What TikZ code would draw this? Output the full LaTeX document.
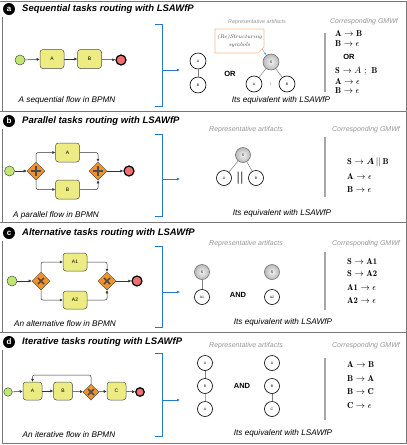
\documentclass[tikz,border=0pt]{standalone}
\usepackage{fontspec}
\usepackage{amsmath}
\usepackage{amssymb}
\usepackage{tikz}
\usetikzlibrary{positioning}
\usetikzlibrary{shapes.geometric}
\usetikzlibrary{arrows.meta}
\newfontfamily\arialfont{Liberation Sans}
\pgfdeclarelayer{nodelayer}
\pgfdeclarelayer{edgelayer}
\pgfsetlayers{nodelayer,edgelayer,main}
\definecolor{framegray}{RGB}{120,120,120}
\definecolor{startgreen}{RGB}{192,232,112}
\definecolor{taskyellow}{RGB}{236,236,130}
\definecolor{gateorange}{RGB}{244,146,42}
\definecolor{endred}{RGB}{240,112,112}
\definecolor{bracketblue}{RGB}{38,120,200}
\definecolor{calloutorange}{RGB}{246,184,136}
\definecolor{hintgray}{RGB}{150,150,150}
\tikzset{
  startev/.style={circle, draw=black!70, fill=startgreen, minimum size=10pt, inner sep=0pt, line width=0.5pt},
  endev/.style={circle, draw=black, fill=endred, minimum size=10pt, inner sep=0pt, line width=1.2pt},
  task/.style={rectangle, rounded corners=3pt, draw=black!70, fill=taskyellow, minimum width=24pt, minimum height=19pt, inner sep=0pt, line width=0.5pt, font=\arialfont\fontsize{5}{6}\selectfont},
  gate/.style={diamond, draw=black!70, fill=gateorange, minimum size=18pt, inner sep=0pt, line width=0.5pt},
  gateplus/.style={gate, path picture={\draw [line width=1.8pt] ([xshift=-5pt]path picture bounding box.center) -- ([xshift=5pt]path picture bounding box.center); \draw [line width=1.8pt] ([yshift=-5pt]path picture bounding box.center) -- ([yshift=5pt]path picture bounding box.center);}},
  gatex/.style={gate, path picture={\draw [line width=1.6pt] ([shift={(-3pt,-3pt)}]path picture bounding box.center) -- ([shift={(3pt,3pt)}]path picture bounding box.center); \draw [line width=1.6pt] ([shift={(-3pt,3pt)}]path picture bounding box.center) -- ([shift={(3pt,-3pt)}]path picture bounding box.center);}},
  flow/.style={-{Latex[length=3pt,width=3pt]}, black!80, line width=0.5pt, rounded corners=2pt},
  tnode/.style={circle, draw=black, fill=white, minimum size=15pt, inner sep=0pt, line width=0.6pt, font=\arialfont\fontsize{3.5}{4}\selectfont},
  snode/.style={tnode, draw=black!55, shading=radial, inner color=gray!10, outer color=gray!55},
  tlink/.style={gray, line width=0.9pt},
  bracket/.style={bracketblue, line width=0.8pt},
  badge/.style={circle, fill=black, text=white, minimum size=12pt, inner sep=0pt, font=\arialfont\bfseries\fontsize{8}{8}\selectfont},
  title/.style={anchor=west, inner sep=0pt, font=\arialfont\bfseries\itshape\fontsize{9.5}{10}\selectfont},
  caption/.style={inner sep=0pt, font=\arialfont\itshape\fontsize{8.2}{9}\selectfont},
  hint/.style={inner sep=0pt, text=hintgray, font=\arialfont\itshape\fontsize{7}{8}\selectfont},
  word/.style={inner sep=0pt, font=\arialfont\bfseries\fontsize{7.5}{8}\selectfont},
  gram/.style={anchor=west, inner sep=0pt, font=\fontsize{8.6}{9}\selectfont},
  gbar/.style={gray!70, line width=2pt},
  frame/.style={framegray, line width=0.7pt}
}
\begin{document}
\begin{tikzpicture}[x=1pt, y=-1pt]
  \useasboundingbox (0, 0) rectangle (407, 445);
  \draw [frame] (0, 1) -- (406, 1) -- (406, 443) -- (2, 443) -- (2, 350);
  \draw [frame] (2, 17) -- (2, 111);
  \draw [frame] (2, 129) -- (2, 222);
  \draw [frame] (2, 241) -- (2, 332);
  \draw [frame] (0, 111) -- (406, 111);
  \draw [frame] (0, 222) -- (406, 222);
  \draw [frame] (0, 332) -- (406, 332);
  \draw [bracket] (155, 24) -- (162, 24) -- (162, 106) -- (155, 106);
  \draw [bracket] (155, 134) -- (162, 134) -- (162, 216) -- (155, 216);
  \draw [bracket] (155, 246) -- (162, 246) -- (162, 327) -- (155, 327);
  \draw [bracket] (155, 353) -- (162, 353) -- (162, 436) -- (155, 436);
  \draw [gbar] (325, 33) -- (325, 92);
  \draw [gbar] (325, 137) -- (325, 197);
  \draw [gbar] (325, 252) -- (325, 310);
  \draw [gbar] (325, 358) -- (325, 420);
  \begin{pgfonlayer}{nodelayer}
    \draw [calloutorange, line width=0.6pt, fill=white] (215, 29) -- (264, 29) -- (264, 47) -- (258, 53) -- (215, 53) -- cycle;
    \node [badge] (a0) at (9, 9) {a};
    \node [title] (a1) at (22, 9) {Sequential tasks routing with LSAWfP};
    \node [startev] (a2) at (20, 60) {};
    \node [task] (a3) at (52, 59) {A};
    \node [task] (a4) at (89.5, 59) {B};
    \node [endev] (a5) at (121, 60) {};
    \node [caption] (a6) at (67, 100) {A sequential flow in BPMN};
    \coordinate (a7) at (162, 70);
    \coordinate (a8) at (180, 70);
    \node [hint, font=\arialfont\itshape\fontsize{5.5}{6}\selectfont] (a9) at (257, 22) {Representative artifacts};
    \node [hint] (a10) at (364, 22) {Corresponding GMWf};
    \node [tnode, minimum size=16pt] (a11) at (198, 61) {A};
    \node [tnode, minimum size=16pt] (a12) at (198, 85) {B};
    \node [word] (a13) at (230, 74) {OR};
    \node [snode, minimum size=16pt] (a14) at (271, 62) {S};
    \node [tnode, minimum size=16pt] (a15) at (254, 84) {A};
    \node [tnode, minimum size=16pt] (a16) at (287, 84) {B};
    \node [inner sep=0pt, font=\fontsize{5}{5}\selectfont] (a17) at (271, 84) {;};
    \node [align=center, inner sep=0pt, text=black!75, font=\itshape\fontsize{5.5}{7.5}\selectfont] (a18) at (239.5, 41) {(Re)Structuring\\symbols};
    \coordinate (a19) at (262, 49);
    \node [gram] (a20) at (335, 33) {$\mathbf{A}\rightarrow\mathbf{B}$};
    \node [gram] (a21) at (335, 44) {$\mathbf{B}\rightarrow\epsilon$};
    \node [word] (a22) at (349, 57) {OR};
    \node [gram] (a23) at (335, 71) {$\mathbf{S}\rightarrow A\ ;\ \mathbf{B}$};
    \node [gram] (a24) at (335, 81) {$\mathbf{A}\rightarrow\epsilon$};
    \node [gram] (a25) at (335, 91) {$\mathbf{B}\rightarrow\epsilon$};
    \node [caption] (a26) at (281, 100) {Its equivalent with LSAWfP};
    \node [badge] (b0) at (9, 121) {b};
    \node [title] (b1) at (22, 121) {Parallel tasks routing with LSAWfP};
    \node [startev] (b2) at (9.5, 171) {};
    \node [gateplus] (b3) at (36, 171) {};
    \node [task] (b4) at (67.5, 152.5) {A};
    \node [task] (b5) at (67.5, 189.5) {B};
    \node [gateplus] (b6) at (98, 171) {};
    \node [endev] (b7) at (129, 171) {};
    \node [caption] (b8) at (56, 215) {A parallel flow in BPMN};
    \coordinate (b9) at (162, 179);
    \coordinate (b10) at (180, 179);
    \node [hint] (b11) at (246, 130) {Representative artifacts};
    \node [hint] (b12) at (366, 130) {Corresponding GMWf};
    \node [snode] (b13) at (243, 155) {S};
    \node [tnode] (b14) at (224, 178) {A};
    \node [tnode] (b15) at (256, 178) {B};
    \node [inner sep=0pt, text=black!70, font=\arialfont\fontsize{13}{13}\selectfont] (b16) at (240, 178) {||};
    \node [gram] (b17) at (347, 162) {$\mathbf{S}\rightarrow\boldsymbol{A}\,||\,\mathbf{B}$};
    \node [gram] (b18) at (347, 176) {$\mathbf{A}\rightarrow\epsilon$};
    \node [gram] (b19) at (347, 190) {$\mathbf{B}\rightarrow\epsilon$};
    \node [caption] (b20) at (282, 213) {Its equivalent with LSAWfP};
    \node [badge] (c0) at (9, 233) {c};
    \node [title] (c1) at (22, 233) {Alternative tasks routing with LSAWfP};
    \node [startev] (c2) at (12, 281) {};
    \node [gatex] (c3) at (41, 281) {};
    \node [task, minimum height=18pt] (c4) at (75, 262) {A1};
    \node [task, minimum height=18pt] (c5) at (75, 300) {A2};
    \node [gatex] (c6) at (107, 281) {};
    \node [endev] (c7) at (137, 281) {};
    \node [caption] (c8) at (65, 324) {An alternative flow in BPMN};
    \coordinate (c9) at (162, 292);
    \coordinate (c10) at (180, 292);
    \node [hint] (c11) at (246, 244) {Representative artifacts};
    \node [hint] (c12) at (366, 244) {Corresponding GMWf};
    \node [snode] (c13) at (202, 272) {S};
    \node [tnode] (c14) at (202, 297) {A1};
    \node [word] (c15) at (238, 295) {AND};
    \node [snode] (c16) at (272, 272) {S};
    \node [tnode] (c17) at (272, 297) {A2};
    \node [gram] (c18) at (347, 262) {$\mathbf{S}\rightarrow\mathbf{A1}$};
    \node [gram] (c19) at (347, 274) {$\mathbf{S}\rightarrow\mathbf{A2}$};
    \node [gram] (c20) at (347, 287) {$\mathbf{A1}\rightarrow\epsilon$};
    \node [gram] (c21) at (347, 300) {$\mathbf{A2}\rightarrow\epsilon$};
    \node [caption] (c22) at (283, 322) {Its equivalent with LSAWfP};
    \node [badge] (d0) at (9, 342) {d};
    \node [title] (d1) at (22, 342) {Iterative tasks routing with LSAWfP};
    \node [startev, minimum size=8.5pt] (d2) at (8, 392) {};
    \node [task, minimum width=19pt, minimum height=18pt] (d3) at (32.5, 391) {A};
    \node [task, minimum width=19pt, minimum height=18pt] (d4) at (63, 391) {B};
    \node [gatex, minimum size=16pt] (d5) at (91, 392) {};
    \node [task, minimum width=19pt, minimum height=18pt] (d6) at (116.5, 391) {C};
    \node [endev, minimum size=8.5pt] (d7) at (140, 392) {};
    \coordinate (d8) at (32.5, 375);
    \node [caption] (d9) at (69, 435) {An iterative flow in BPMN};
    \coordinate (d10) at (162, 400);
    \coordinate (d11) at (180, 400);
    \node [hint] (d12) at (246, 346) {Representative artifacts};
    \node [hint] (d13) at (366, 346) {Corresponding GMWf};
    \node [tnode] (d14) at (205, 363) {A};
    \node [tnode] (d15) at (205, 386) {B};
    \node [tnode] (d16) at (205, 409) {A};
    \node [word] (d17) at (242, 386) {AND};
    \node [tnode] (d18) at (272, 363) {A};
    \node [tnode] (d19) at (272, 386) {B};
    \node [tnode] (d20) at (272, 409) {C};
    \node [gram] (d21) at (347, 364) {$\mathbf{A}\rightarrow\mathbf{B}$};
    \node [gram] (d22) at (347, 378) {$\mathbf{B}\rightarrow\mathbf{A}$};
    \node [gram] (d23) at (347, 392) {$\mathbf{B}\rightarrow\mathbf{C}$};
    \node [gram] (d24) at (347, 406) {$\mathbf{C}\rightarrow\epsilon$};
    \node [caption] (d25) at (283, 433) {Its equivalent with LSAWfP};
  \end{pgfonlayer}
  \begin{pgfonlayer}{edgelayer}
    \draw [flow] (a2) to (a3);
    \draw [flow] (a3) to (a4);
    \draw [flow] (a4) to (a5);
    \draw [bracket, -{Latex[length=3pt,width=3pt]}] (a7) to (a8);
    \draw [tlink] (a11) to (a12);
    \draw [gray, line width=0.5pt] (a14) to (a15);
    \draw [gray, line width=0.5pt] (a14) to (a16);
    \draw [bracketblue!70, line width=0.4pt, -{Latex[length=2.5pt,width=2pt]}] (a19) to (a14);
    \draw [flow] (b2) to (b3);
    \draw [flow] (b3.north) |- (b4);
    \draw [flow] (b3.south) |- (b5);
    \draw [flow] (b4) -| (b6);
    \draw [flow] (b5) -| (b6);
    \draw [flow] (b6) to (b7);
    \draw [bracket, -{Latex[length=3pt,width=3pt]}] (b9) to (b10);
    \draw [gray, line width=0.5pt] (b13) to (b14);
    \draw [gray, line width=0.5pt] (b13) to (b15);
    \draw [flow] (c2) to (c3);
    \draw [flow] (c3.north) |- (c4);
    \draw [flow] (c3.south) |- (c5);
    \draw [flow] (c4) -| (c6);
    \draw [flow] (c5) -| (c6);
    \draw [flow] (c6) to (c7);
    \draw [bracket, -{Latex[length=3pt,width=3pt]}] (c9) to (c10);
    \draw [tlink] (c13) to (c14);
    \draw [flow] (d2) to (d3);
    \draw [flow] (d3) to (d4);
    \draw [flow] (d4) to (d5);
    \draw [flow] (d5) to (d6);
    \draw [flow] (d6) to (d7);
    \draw [flow] (d5.north) |- (d8) to (d3);
    \draw [bracket, -{Latex[length=3pt,width=3pt]}] (d10) to (d11);
    \draw [tlink] (d14) to (d15);
    \draw [gray!70, line width=0.5pt] (d15) to (d16);
    \draw [tlink] (d19) to (d20);
  \end{pgfonlayer}
\end{tikzpicture}
\end{document}
